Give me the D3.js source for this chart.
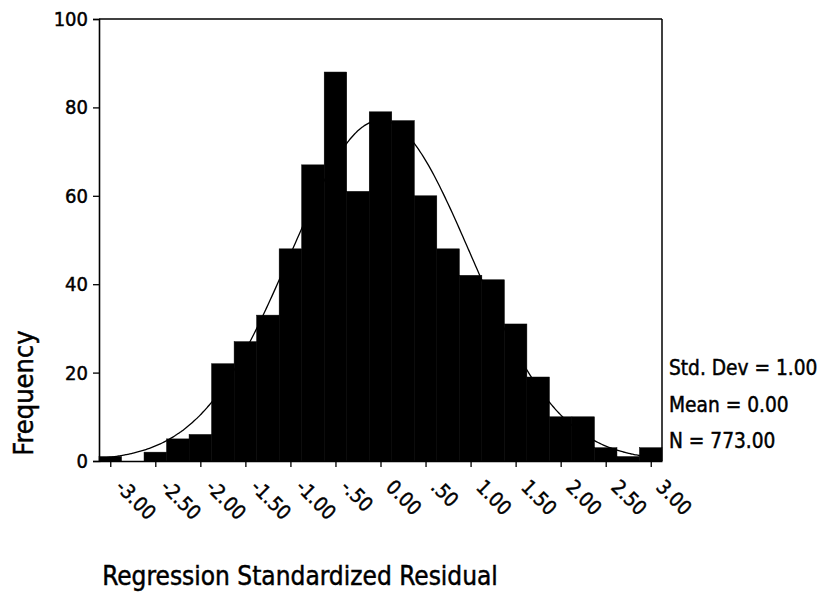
<!DOCTYPE html>
<html>
<head>
<meta charset="utf-8">
<script src="https://cdn.jsdelivr.net/npm/d3@7/dist/d3.min.js"></script>
<style>
  html, body { margin: 0; padding: 0; background: #fff; }
  svg text { font-family: "DejaVu Sans Condensed", "DejaVu Sans", sans-serif; font-stretch: condensed; fill: #000;
             stroke: #000; stroke-width: 0.45px; }
</style>
</head>
<body>
<svg id="chart" width="826" height="595"></svg>
<script>
// ---- data ----
const binCenters = [-3.00, -2.75, -2.50, -2.25, -2.00, -1.75, -1.50, -1.25, -1.00, -0.75, -0.50, -0.25,
                    0.00, 0.25, 0.50, 0.75, 1.00, 1.25, 1.50, 1.75, 2.00, 2.25, 2.50, 2.75, 3.00];
const frequencies = [1, 0, 2, 5, 6, 22, 27, 33, 48, 67, 88, 61,
                     79, 77, 60, 48, 42, 41, 31, 19, 10, 10, 3, 1, 3];
const binWidth = 0.25;
const xTickValues = [-3.00, -2.50, -2.00, -1.50, -1.00, -0.50, 0.00, 0.50, 1.00, 1.50, 2.00, 2.50, 3.00];
const xTickLabels = ["-3.00", "-2.50", "-2.00", "-1.50", "-1.00", "-.50", "0.00", ".50", "1.00", "1.50", "2.00", "2.50", "3.00"];
const yTickValues = [0, 20, 40, 60, 80, 100];
const statLabels = ["Std. Dev = 1.00", "Mean = 0.00", "N = 773.00"];
const meanValue = 0.00, sdValue = 1.00, nValue = 773;
const xTitle = "Regression Standardized Residual";
const yTitle = "Frequency";

// ---- layout ----
const svg = d3.select("#chart");
const mLeft = 99, mRight = 662, mTop = 19, mBottom = 461;
const x = d3.scaleLinear().domain([-3.125, 3.125]).range([mLeft, mRight]);
const y = d3.scaleLinear().domain([0, 100]).range([mBottom, mTop]);

// bars
svg.append("g").selectAll("rect")
  .data(binCenters.map((c, i) => ({c, f: frequencies[i]})))
  .join("rect")
  .attr("x", d => x(d.c - binWidth / 2))
  .attr("width", d => x(d.c + binWidth / 2) - x(d.c - binWidth / 2))
  .attr("y", d => y(d.f))
  .attr("height", d => y(0) - y(d.f))
  .attr("fill", "#000")
  .attr("stroke", "#000")
  .attr("stroke-width", 0.5);

// normal curve
const curvePts = d3.range(-3.125, 3.1251, 0.02).map(v => [v,
  nValue * binWidth * Math.exp(-0.5 * ((v - meanValue) / sdValue) ** 2) / (sdValue * Math.sqrt(2 * Math.PI))]);
svg.append("path")
  .datum(curvePts)
  .attr("fill", "none")
  .attr("stroke", "#000")
  .attr("stroke-width", 1.3)
  .attr("d", d3.line().x(d => x(d[0])).y(d => y(d[1])).curve(d3.curveBasis));

// frame (top and right)
svg.append("line").attr("x1", mLeft).attr("x2", mRight).attr("y1", mTop).attr("y2", mTop)
  .attr("stroke", "#000").attr("stroke-width", 1.5);
svg.append("line").attr("x1", mRight).attr("x2", mRight).attr("y1", mTop).attr("y2", mBottom)
  .attr("stroke", "#000").attr("stroke-width", 1.5);

// y axis
const yAxis = svg.append("g").attr("transform", `translate(${mLeft},0)`)
  .call(d3.axisLeft(y).tickValues(yTickValues).tickFormat(d3.format("d")).tickSize(6).tickPadding(5));
yAxis.select(".domain").attr("stroke-width", 1.6);
yAxis.selectAll(".tick line").attr("stroke-width", 1.3);
yAxis.selectAll("text").style("font-size", "20px");

// x axis
const xAxis = svg.append("g").attr("transform", `translate(0,${mBottom})`)
  .call(d3.axisBottom(x).tickValues(xTickValues).tickSize(6).tickSizeOuter(0)
    .tickFormat((d, i) => xTickLabels[i]));
xAxis.select(".domain").attr("stroke-width", 1.6);
xAxis.selectAll(".tick line").attr("stroke-width", 1.3);
xAxis.selectAll("text")
  .style("font-size", "20px")
  .attr("text-anchor", "start")
  .attr("y", 0).attr("dy", "0.72em")
  .attr("transform", "translate(14,17) rotate(45)");

// stats
svg.append("g").selectAll("text").data(statLabels).join("text")
  .attr("x", 669)
  .attr("y", (d, i) => 375 + i * 36.5)
  .style("font-size", "20.7px")
  .text(d => d);

// axis titles
svg.append("text")
  .attr("transform", "translate(33,393) rotate(-90)")
  .attr("text-anchor", "middle")
  .style("font-size", "27px")
  .text(yTitle);
svg.append("text")
  .attr("x", 300).attr("y", 585)
  .attr("text-anchor", "middle")
  .style("font-size", "26px")
  .text(xTitle);
</script>
</body>
</html>
